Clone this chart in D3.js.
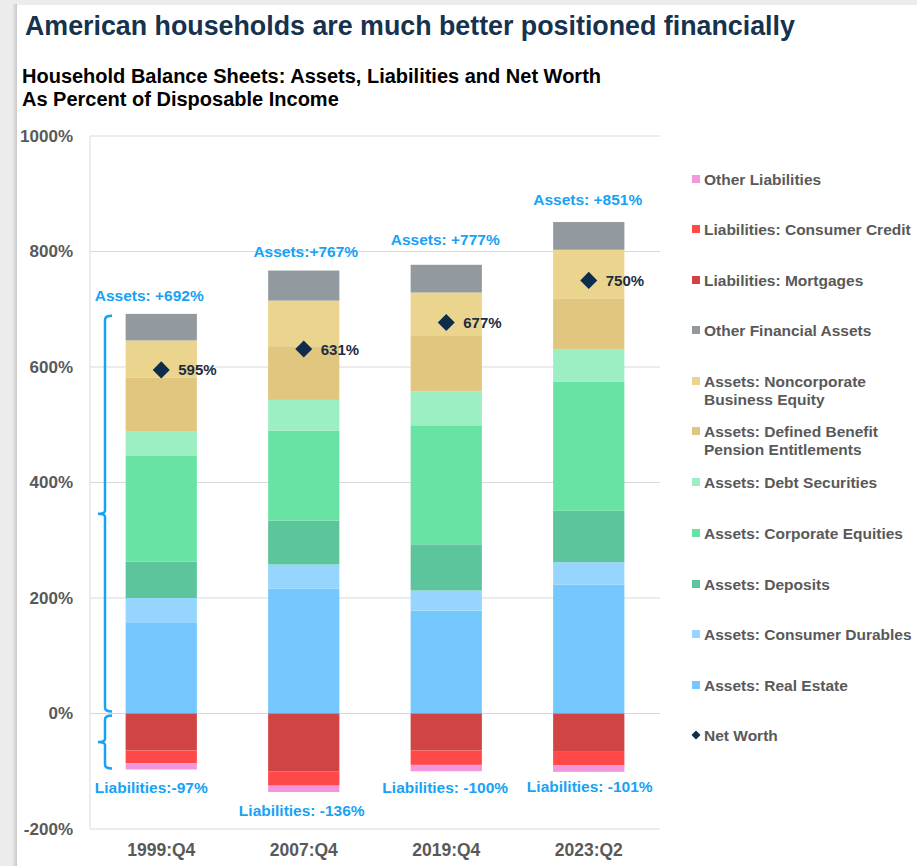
<!DOCTYPE html>
<html>
<head>
<meta charset="utf-8">
<script src="https://cdn.jsdelivr.net/npm/d3@7"></script>
<style>
  html, body { margin: 0; padding: 0; background: #ececec; }
  svg { display: block; font-family: "Liberation Sans", Arial, sans-serif; }
</style>
</head>
<body>
<svg id="chart" width="917" height="866"></svg>
<script>
// Household balance sheet components, % of disposable income
const categories = ["1999:Q4", "2007:Q4", "2019:Q4", "2023:Q2"];

const realEstate        = [158, 216, 178, 223];
const consumerDurables  = [42, 42, 35, 39];
const deposits          = [63, 76, 80, 89];
const corporateEquities = [183, 156, 206, 224];
const debtSecurities    = [43, 53, 59, 55];
const pensionEntitle    = [93, 93, 97, 88];
const noncorpEquity     = [64, 79, 74, 85];
const otherFinancial    = [46, 52, 48, 48];

const mortgages         = [-64, -100, -64, -65];
const consumerCredit    = [-22, -25, -25, -25];
const otherLiabilities  = [-11, -11, -11, -11];

const netWorth          = [595, 631, 677, 750];
const assetTotals       = [692, 767, 777, 851];
const liabilityTotals   = [-97, -136, -100, -101];

const assetLabels     = ["Assets: +692%", "Assets:+767%", "Assets: +777%", "Assets: +851%"];
const liabilityLabels = ["Liabilities:-97%", "Liabilities: -136%", "Liabilities: -100%", "Liabilities: -101%"];

const yTicks = [-200, 0, 200, 400, 600, 800, 1000];

// series in stacking order (bottom-up for assets, top-down for liabilities)
const series = [
  { key: "Assets: Real Estate",        values: realEstate,        color: "#74c8fd" },
  { key: "Assets: Consumer Durables",  values: consumerDurables,  color: "#96d5fd" },
  { key: "Assets: Deposits",           values: deposits,          color: "#5dc59b" },
  { key: "Assets: Corporate Equities", values: corporateEquities, color: "#69e3a3" },
  { key: "Assets: Debt Securities",    values: debtSecurities,    color: "#9ceec3" },
  { key: "Assets: Defined Benefit Pension Entitlements", values: pensionEntitle, color: "#e0c67f" },
  { key: "Assets: Noncorporate Business Equity", values: noncorpEquity, color: "#ebd48e" },
  { key: "Other Financial Assets",     values: otherFinancial,    color: "#939a9f" },
  { key: "Liabilities: Mortgages",     values: mortgages,         color: "#d04444" },
  { key: "Liabilities: Consumer Credit", values: consumerCredit,  color: "#ff4848" },
  { key: "Other Liabilities",          values: otherLiabilities,  color: "#f496dc" }
];

const legendItems = [
  { lines: ["Other Liabilities"], color: "#f496dc" },
  { lines: ["Liabilities: Consumer Credit"], color: "#ff4848" },
  { lines: ["Liabilities: Mortgages"], color: "#d04444" },
  { lines: ["Other Financial Assets"], color: "#939a9f" },
  { lines: ["Assets: Noncorporate", "Business Equity"], color: "#ebd48e" },
  { lines: ["Assets: Defined Benefit", "Pension Entitlements"], color: "#e0c67f" },
  { lines: ["Assets: Debt Securities"], color: "#9ceec3" },
  { lines: ["Assets: Corporate Equities"], color: "#69e3a3" },
  { lines: ["Assets: Deposits"], color: "#5dc59b" },
  { lines: ["Assets: Consumer Durables"], color: "#96d5fd" },
  { lines: ["Assets: Real Estate"], color: "#74c8fd" },
  { lines: ["Net Worth"], color: "#0e2d4a", diamond: true }
];

const ANNOT = "#17a2f5";
const AXIS_TEXT = "#595959";

const svg = d3.select("#chart");

// page card with soft left shadow
const defs = svg.append("defs");
const grad = defs.append("linearGradient").attr("id", "edge").attr("x1", 0).attr("x2", 1);
grad.append("stop").attr("offset", 0).attr("stop-color", "#ececec");
grad.append("stop").attr("offset", 1).attr("stop-color", "#c8c8c8");
svg.append("rect").attr("x", 0).attr("y", 0).attr("width", 917).attr("height", 866).attr("fill", "#ececec");
svg.append("rect").attr("x", 12).attr("y", 4).attr("width", 5).attr("height", 862).attr("fill", "url(#edge)");
svg.append("rect").attr("x", 17).attr("y", 5).attr("width", 900).attr("height", 861).attr("fill", "#ffffff");

// titles
svg.append("text").attr("x", 25).attr("y", 35)
  .attr("font-size", 26.8).attr("font-weight", "bold").attr("fill", "#15324f")
  .text("American households are much better positioned financially");
svg.append("text").attr("x", 22).attr("y", 83)
  .attr("font-size", 20).attr("font-weight", "bold").attr("fill", "#000")
  .text("Household Balance Sheets: Assets, Liabilities and Net Worth");
svg.append("text").attr("x", 22).attr("y", 106)
  .attr("font-size", 20).attr("font-weight", "bold").attr("fill", "#000")
  .text("As Percent of Disposable Income");

// scales
const x = d3.scaleBand().domain(categories).range([90, 660]).paddingInner(0.5).paddingOuter(0.25);
const y = d3.scaleLinear().domain([-200, 1000]).range([829, 136]);

// gridlines
const plot = svg.append("g");
plot.selectAll("line.grid").data(yTicks).join("line")
  .attr("class", "grid")
  .attr("x1", 90).attr("x2", 660)
  .attr("y1", d => y(d)).attr("y2", d => y(d))
  .attr("stroke", "#d9d9d9").attr("stroke-width", 1);
plot.append("line").attr("x1", 90).attr("x2", 90).attr("y1", y(1000)).attr("y2", y(-200))
  .attr("stroke", "#d9d9d9");

// y axis
const yAxis = svg.append("g").attr("transform", "translate(90,0)")
  .call(d3.axisLeft(y).tickValues(yTicks).tickFormat(d => d + "%").tickSize(0).tickPadding(17));
yAxis.select(".domain").remove();
yAxis.selectAll("text").attr("font-size", 17).attr("font-weight", "bold").attr("fill", AXIS_TEXT)
  .attr("font-family", "Liberation Sans, Arial, sans-serif");

// x axis
const xAxis = svg.append("g").attr("transform", `translate(0,${y(-200)})`)
  .call(d3.axisBottom(x).tickSize(0).tickPadding(15));
xAxis.select(".domain").remove();
xAxis.selectAll("text").attr("font-size", 17.5).attr("font-weight", "bold").attr("fill", AXIS_TEXT)
  .attr("font-family", "Liberation Sans, Arial, sans-serif");

// stacked bars (diverging)
const rows = categories.map((c, i) => {
  const r = { category: c };
  series.forEach(s => { r[s.key] = s.values[i]; });
  return r;
});
const stacked = d3.stack().keys(series.map(s => s.key)).offset(d3.stackOffsetDiverging)(rows);
const colorOf = new Map(series.map(s => [s.key, s.color]));

svg.append("g").selectAll("g").data(stacked).join("g")
  .attr("fill", d => colorOf.get(d.key))
  .selectAll("rect").data(d => d).join("rect")
  .attr("x", d => x(d.data.category))
  .attr("width", x.bandwidth())
  .attr("y", d => y(Math.max(d[0], d[1])))
  .attr("height", d => Math.abs(y(d[0]) - y(d[1])));

// net worth markers
const cx = c => x(c) + x.bandwidth() / 2;
const diamond = d3.symbol().type(d3.symbolSquare).size(145);
const nw = svg.append("g");
nw.selectAll("path").data(netWorth).join("path")
  .attr("d", diamond)
  .attr("transform", (d, i) => `translate(${cx(categories[i])},${y(d)}) rotate(45)`)
  .attr("fill", "#0e2d4a");
nw.selectAll("text").data(netWorth).join("text")
  .attr("x", (d, i) => cx(categories[i]) + 17)
  .attr("y", d => y(d) + 5.5)
  .attr("font-size", 15).attr("font-weight", "bold").attr("fill", "#1c2d3f")
  .text(d => d + "%");

// total annotations
const ann = svg.append("g").attr("font-size", 15.5).attr("font-weight", "bold").attr("fill", ANNOT)
  .attr("text-anchor", "middle");
const assetOffset = [18, 19, 25, 23];
ann.selectAll("text.a").data(assetTotals).join("text").attr("class", "a")
  .attr("x", (d, i) => cx(categories[i]) + [-12, 2, -1, -1][i])
  .attr("y", (d, i) => y(d) - assetOffset[i] + 5.5)
  .text((d, i) => assetLabels[i]);
const liabOffset = [18, 18, 16, 15];
ann.selectAll("text.l").data(liabilityTotals).join("text").attr("class", "l")
  .attr("x", (d, i) => cx(categories[i]) + [-10, -2, -1, 1][i])
  .attr("y", (d, i) => y(d) + liabOffset[i] + 5.5)
  .text((d, i) => liabilityLabels[i]);

// braces spanning the first bar's assets and liabilities
function brace(top, bottom, xLine, xHook, xTip) {
  const mid = (top + bottom) / 2;
  return `M${xHook},${top} Q${xLine},${top} ${xLine},${top + 4} L${xLine},${mid - 3} Q${xLine},${mid} ${xTip},${mid} ` +
         `Q${xLine},${mid} ${xLine},${mid + 3} L${xLine},${bottom - 4} Q${xLine},${bottom} ${xHook},${bottom}`;
}
svg.append("path")
  .attr("d", brace(y(assetTotals[0]) + 2, y(0) - 2, 105, 112, 98))
  .attr("fill", "none").attr("stroke", ANNOT).attr("stroke-width", 2.5);
svg.append("path")
  .attr("d", brace(y(0) + 2, y(liabilityTotals[0]) - 1, 105, 112, 98))
  .attr("fill", "none").attr("stroke", ANNOT).attr("stroke-width", 2.5);

// legend
const legend = svg.append("g").attr("font-size", 15.5).attr("font-weight", "bold").attr("fill", AXIS_TEXT);
const legendY = [179, 229, 280, 330, 381, 431, 482, 533, 584, 634, 685, 735];
legendItems.forEach((item, i) => {
  const g = legend.append("g").attr("transform", `translate(0,${legendY[i]})`);
  if (item.diamond) {
    g.append("path").attr("d", d3.symbol().type(d3.symbolSquare).size(40))
      .attr("transform", "translate(696,0) rotate(45)").attr("fill", item.color);
  } else {
    g.append("rect").attr("x", 692).attr("y", -4).attr("width", 8).attr("height", 8).attr("fill", item.color);
  }
  item.lines.forEach((line, j) => {
    g.append("text").attr("x", 704).attr("y", 5.5 + j * 18).text(line);
  });
});
</script>
</body>
</html>
